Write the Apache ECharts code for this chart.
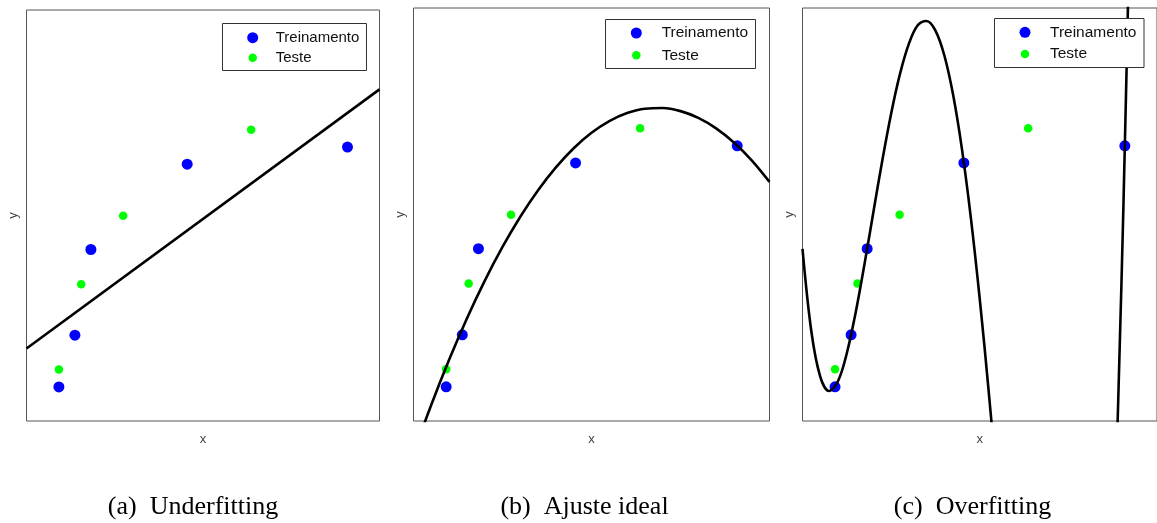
<!DOCTYPE html>
<html>
<head>
<meta charset="utf-8">
<title>Underfitting / Ajuste ideal / Overfitting</title>
<script src="https://cdn.jsdelivr.net/npm/echarts@6/dist/echarts.min.js"></script>
<style>
  html, body { margin: 0; padding: 0; background: #fff; }
  #chart { width: 1157px; height: 523px; }
</style>
</head>
<body>
<div id="chart"></div>
<script>
// Points (no ticks shown, so both axes are taken as 0..10)
const trainX = [0.918, 1.371, 1.824, 4.552, 9.093]
const trainY = [0.828, 2.087, 4.173, 6.25, 6.664]
const testX  = [0.918, 1.55, 2.739, 6.365]
const testY  = [1.252, 3.328, 4.992, 7.086]

// (a) straight line
const underX = [0, 10]
const underY = [1.763, 8.069]

// (b) parabola, peaks around x = 6.8
const idealX = [0, 0.5, 1, 1.5, 2, 2.5, 3, 3.5, 4, 4.5, 5, 5.5, 6, 6.5, 7, 7.5, 8, 8.5, 9, 9.5, 10]
const idealY = [-0.785, 0.394, 1.483, 2.483, 3.394, 4.215, 4.947, 5.589, 6.141, 6.604, 6.978,
                7.262, 7.457, 7.562, 7.577, 7.503, 7.340, 7.087, 6.745, 6.313, 5.791]

// (c) wiggly curve through every training point; it leaves the frame between ~5.3 and ~8.9
const overX = [0, 0.25, 0.5, 0.75, 1, 1.25, 1.5, 1.75, 2, 2.25, 2.5, 2.75, 3, 3.25, 3.5, 3.75,
               4, 4.25, 4.5, 4.75, 5, 5.25, 5.5, 6, 7, 8, 8.5, 8.75, 9, 9.1, 9.2, 9.3]
const overY = [4.169, 2.167, 1.074, 0.725, 0.961, 1.640, 2.628, 3.805, 5.062, 6.302, 7.441, 8.404,
               9.131, 9.581, 9.687, 9.454, 8.856, 7.891, 6.570, 4.914, 2.954, 0.738, -1.679,
               -6.827, -15.715, -15.904, -9.49, -3.96, 3.42, 6.94, 10.80, 15.02]

const captions    = ['(a)  Underfitting', '(b)  Ajuste ideal', '(c)  Overfitting']
const legendNames = ['Treinamento', 'Teste']

const COLOR_TRAIN = '#0000ff'
const COLOR_TEST  = '#00ff00'
const COLOR_FIT   = '#000000'
const COLOR_FRAME = '#555555'
const MARKER_SIZE = [11, 8.5]

// layout of each sub-figure (pixels)
const PANELS = [
  { grid: { left: 26.5, top: 10, width: 353, height: 411 },
    box: [222.5, 23.5, 144, 47], markerX: 252.7, markerY: [37.7, 57.7], textX: 275.7, font: 15, caption: 193 },
  { grid: { left: 413.5, top: 8, width: 356, height: 413 },
    box: [605.5, 19.5, 150, 49], markerX: 636.3, markerY: [33, 55.3], textX: 661.7, font: 15.5, caption: 584.5 },
  { grid: { left: 802.5, top: 8, width: 356, height: 413 },
    box: [994.5, 18.5, 149.5, 49], markerX: 1025, markerY: [32.3, 54], textX: 1050, font: 15.5, caption: 972.5 },
]
const FITS = [[underX, underY], [idealX, idealY], [overX, overY]]

const pts = (xs, ys) => xs.map((x, i) => [x, ys[i]])

function buildOption() {
  const grid = [], xAxis = [], yAxis = [], series = [], legend = [], graphic = [], title = []

  PANELS.forEach((p, i) => {
    grid.push({ ...p.grid, show: true, borderColor: COLOR_FRAME, borderWidth: 1, backgroundColor: 'transparent' })

    const axisBase = {
      type: 'value', gridIndex: i, min: 0, max: 10,
      axisLine: { show: false }, axisTick: { show: false },
      axisLabel: { show: false }, splitLine: { show: false },
      nameLocation: 'middle',
      nameTextStyle: { color: '#444', fontSize: 13, fontFamily: 'Liberation Sans, Arial, sans-serif' },
    }
    xAxis.push({ ...axisBase, name: 'x', nameGap: 12 })
    yAxis.push({ ...axisBase, name: 'y', nameGap: 7 })

    // ── fitted curve ──
    series.push({
      type: 'line', xAxisIndex: i, yAxisIndex: i,
      data: pts(FITS[i][0], FITS[i][1]),
      smooth: i > 0 ? 0.35 : false, clip: true,
      symbol: 'none', silent: true,
      lineStyle: { color: COLOR_FIT, width: 2.6 },
    })
    // ── points ──
    series.push({
      name: legendNames[0], type: 'scatter', xAxisIndex: i, yAxisIndex: i,
      data: pts(trainX, trainY), symbolSize: MARKER_SIZE[0],
      itemStyle: { color: COLOR_TRAIN, opacity: 1 },
    })
    series.push({
      name: legendNames[1], type: 'scatter', xAxisIndex: i, yAxisIndex: i,
      data: pts(testX, testY), symbolSize: MARKER_SIZE[1],
      itemStyle: { color: COLOR_TEST, opacity: 1 },
    })

    // legend frame, opaque so it hides the curve in panel c
    graphic.push({
      type: 'rect', z: 100,
      shape: { x: p.box[0], y: p.box[1], width: p.box[2], height: p.box[3] },
      style: { fill: '#fff', stroke: '#333', lineWidth: 1 },
    })
    // one legend per entry so the two markers keep their own sizes
    legendNames.forEach((name, k) => {
      const s = MARKER_SIZE[k]
      legend.push({
        data: [name], selectedMode: false, z: 110,
        left: p.markerX - s / 2, top: p.markerY[k] - 10, padding: 0,
        icon: 'circle', itemWidth: s, itemHeight: s,
        textStyle: {
          color: '#111', fontSize: p.font, lineHeight: 20,
          fontFamily: 'Liberation Sans, Arial, sans-serif',
          padding: [0, 0, 0, p.textX - (p.markerX + s / 2) - 5],
        },
      })
    })

    title.push({
      text: captions[i], left: p.caption, top: 494, padding: 0, textAlign: 'center',
      textStyle: { fontFamily: 'Liberation Serif, serif', fontWeight: 'normal', fontSize: 26, color: '#000' },
    })
  })

  return { animation: false, grid, xAxis, yAxis, series, legend, graphic, title }
}

const chart = echarts.init(document.getElementById('chart'), null, { renderer: 'canvas' })
chart.setOption(buildOption())
</script>
</body>
</html>
